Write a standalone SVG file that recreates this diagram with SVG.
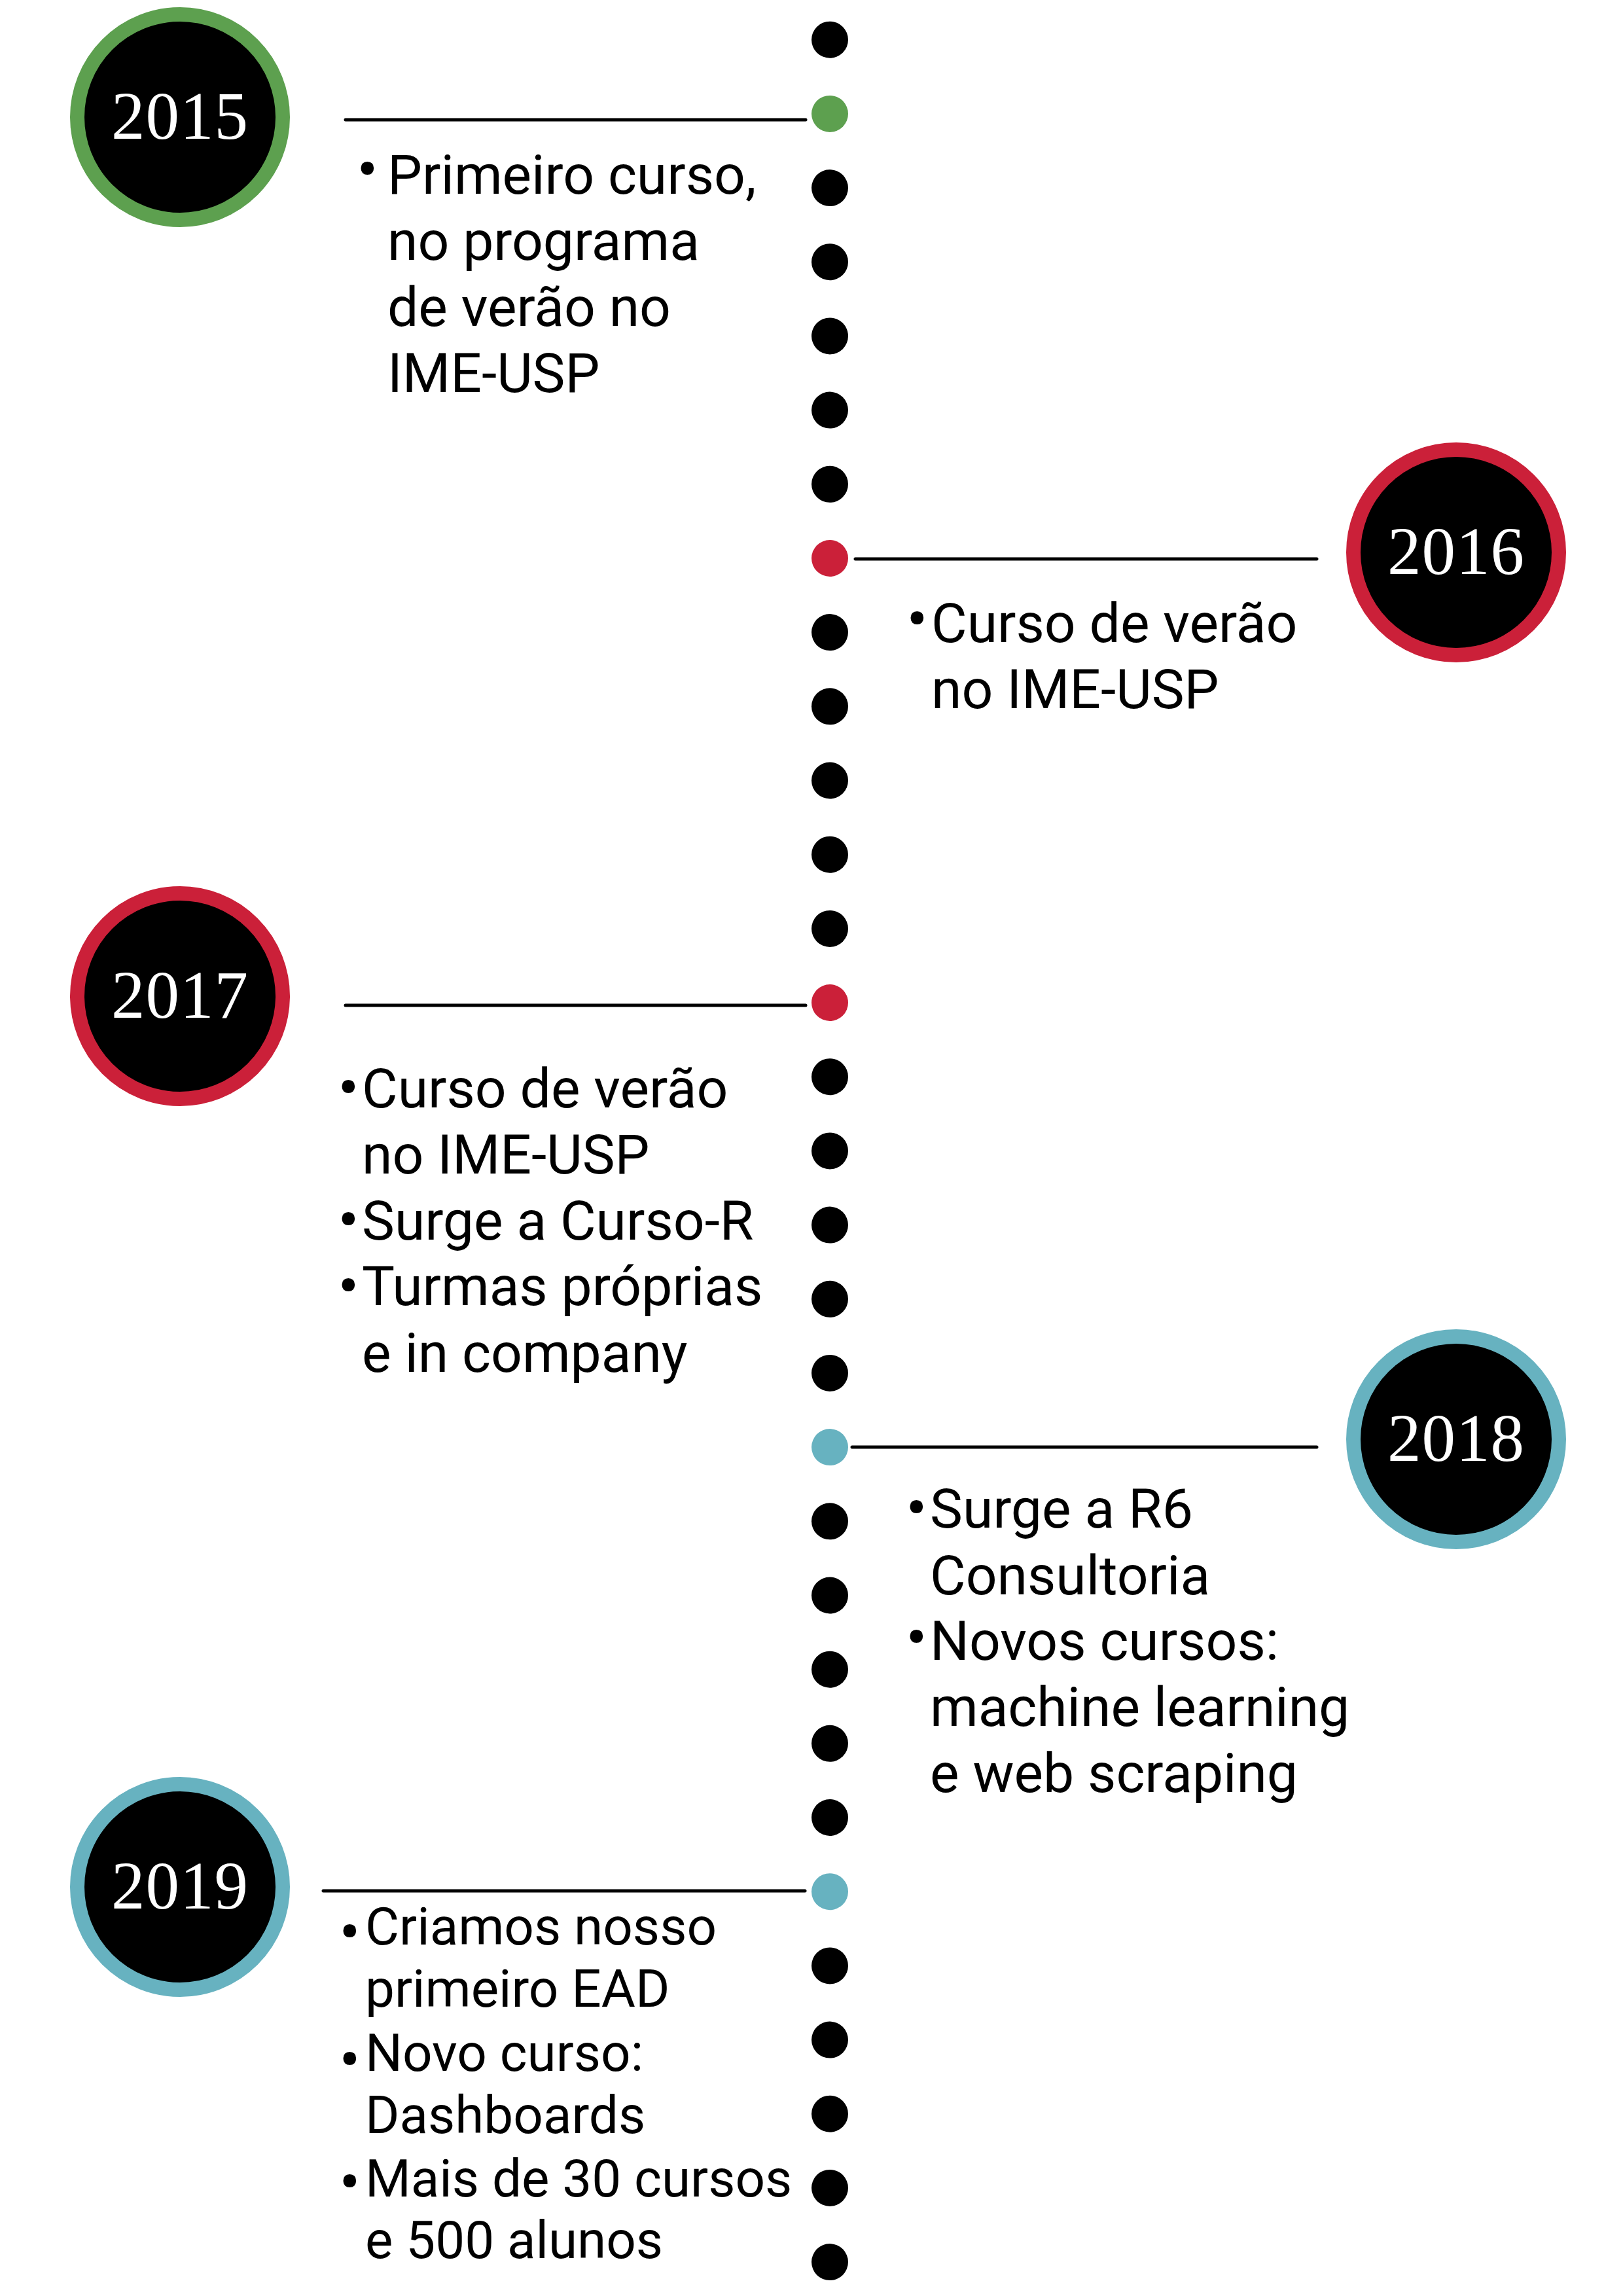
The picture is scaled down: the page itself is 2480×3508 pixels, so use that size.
<svg xmlns="http://www.w3.org/2000/svg" width="2480" height="3508" viewBox="0 0 2480 3508">
<style>
.dot{fill:#000}
.g{fill:#5DA04F}
.r{fill:#CB2039}
.b{fill:#67B2C0}
.ring{fill:#000;stroke-width:22}
.yr{font-family:"Liberation Serif",serif;font-size:103px;fill:#fff;text-anchor:middle;letter-spacing:1px}
.t{font-family:Roboto,"Noto Sans",sans-serif;font-size:84px;fill:#000}
.t2{font-family:Roboto,"Noto Sans",sans-serif;font-size:80px;fill:#000}
.bl{font-family:Roboto,"Noto Sans",sans-serif;font-size:84px;font-weight:bold;fill:#000;text-anchor:middle}
.ln{stroke:#000;stroke-width:5;stroke-linecap:round}
</style>
<rect width="2480" height="3508" fill="#fff"/>
<g id="timeline-dots">
<circle class="dot" cx="1268" cy="60.7" r="28"/>
<circle class="g" cx="1268" cy="173.9" r="28"/>
<circle class="dot" cx="1268" cy="287.1" r="28"/>
<circle class="dot" cx="1268" cy="400.2" r="28"/>
<circle class="dot" cx="1268" cy="513.4" r="28"/>
<circle class="dot" cx="1268" cy="626.6" r="28"/>
<circle class="dot" cx="1268" cy="739.8" r="28"/>
<circle class="r" cx="1268" cy="853" r="28"/>
<circle class="dot" cx="1268" cy="966.1" r="28"/>
<circle class="dot" cx="1268" cy="1079.3" r="28"/>
<circle class="dot" cx="1268" cy="1192.5" r="28"/>
<circle class="dot" cx="1268" cy="1305.7" r="28"/>
<circle class="dot" cx="1268" cy="1418.9" r="28"/>
<circle class="r" cx="1268" cy="1532" r="28"/>
<circle class="dot" cx="1268" cy="1645.2" r="28"/>
<circle class="dot" cx="1268" cy="1758.4" r="28"/>
<circle class="dot" cx="1268" cy="1871.6" r="28"/>
<circle class="dot" cx="1268" cy="1984.8" r="28"/>
<circle class="dot" cx="1268" cy="2097.9" r="28"/>
<circle class="b" cx="1268" cy="2211.1" r="28"/>
<circle class="dot" cx="1268" cy="2324.3" r="28"/>
<circle class="dot" cx="1268" cy="2437.5" r="28"/>
<circle class="dot" cx="1268" cy="2550.7" r="28"/>
<circle class="dot" cx="1268" cy="2663.8" r="28"/>
<circle class="dot" cx="1268" cy="2777" r="28"/>
<circle class="b" cx="1268" cy="2890.2" r="28"/>
<circle class="dot" cx="1268" cy="3003.4" r="28"/>
<circle class="dot" cx="1268" cy="3116.6" r="28"/>
<circle class="dot" cx="1268" cy="3229.7" r="28"/>
<circle class="dot" cx="1268" cy="3342.9" r="28"/>
<circle class="dot" cx="1268" cy="3456.1" r="28"/>
</g>
<g id="connectors">
<line class="ln" x1="528" y1="183" x2="1231" y2="183"/>
<line class="ln" x1="1307" y1="854" x2="2012" y2="854"/>
<line class="ln" x1="528" y1="1536" x2="1231" y2="1536"/>
<line class="ln" x1="1302" y1="2211" x2="2012" y2="2211"/>
<line class="ln" x1="494" y1="2889" x2="1230" y2="2889"/>
</g>
<g id="y2015">
<circle class="ring" cx="275" cy="179" r="157" stroke="#5DA04F"/>
<text class="yr" x="275" y="212">2015</text>
</g>
<g id="y2016">
<circle class="ring" cx="2225" cy="844" r="157" stroke="#CB2039"/>
<text class="yr" x="2225" y="877">2016</text>
</g>
<g id="y2017">
<circle class="ring" cx="275" cy="1522" r="157" stroke="#CB2039"/>
<text class="yr" x="275" y="1555">2017</text>
</g>
<g id="y2018">
<circle class="ring" cx="2225" cy="2199" r="157" stroke="#67B2C0"/>
<text class="yr" x="2225" y="2232">2018</text>
</g>
<g id="y2019">
<circle class="ring" cx="275" cy="2883" r="157" stroke="#67B2C0"/>
<text class="yr" x="275" y="2916">2019</text>
</g>
<g id="text2015">
<text class="bl" x="561" y="288">•</text>
<text class="t" x="592" y="296">Primeiro curso,</text>
<text class="t" x="592" y="397">no programa</text>
<text class="t" x="592" y="498">de verão no</text>
<text class="t" x="592" y="599">IME-USP</text>
</g>
<g id="text2016">
<text class="bl" x="1401" y="975">•</text>
<text class="t" x="1423" y="981">Curso de verão</text>
<text class="t" x="1423" y="1082">no IME-USP</text>
</g>
<g id="text2017">
<text class="bl" x="532" y="1691">•</text>
<text class="t" x="553" y="1692">Curso de verão</text>
<text class="t" x="553" y="1793">no IME-USP</text>
<text class="bl" x="532" y="1893">•</text>
<text class="t" x="553" y="1894">Surge a Curso-R</text>
<text class="bl" x="532" y="1994">•</text>
<text class="t" x="553" y="1994">Turmas próprias</text>
<text class="t" x="553" y="2096">e in company</text>
</g>
<g id="text2018">
<text class="bl" x="1400" y="2333">•</text>
<text class="t" x="1421" y="2334">Surge a R6</text>
<text class="t" x="1421" y="2436">Consultoria</text>
<text class="bl" x="1400" y="2531">•</text>
<text class="t" x="1421" y="2536">Novos cursos:</text>
<text class="t" x="1421" y="2637">machine learning</text>
<text class="t" x="1421" y="2738">e web scraping</text>
</g>
<g id="text2019">
<text class="bl" x="534" y="2981">•</text>
<text class="t2" x="558" y="2971">Criamos nosso</text>
<text class="t2" x="558" y="3066">primeiro EAD</text>
<text class="bl" x="534" y="3176">•</text>
<text class="t2" x="558" y="3164">Novo curso:</text>
<text class="t2" x="558" y="3259">Dashboards</text>
<text class="bl" x="534" y="3363">•</text>
<text class="t2" x="558" y="3356">Mais de 30 cursos</text>
<text class="t2" x="558" y="3450">e 500 alunos</text>
</g>
</svg>
